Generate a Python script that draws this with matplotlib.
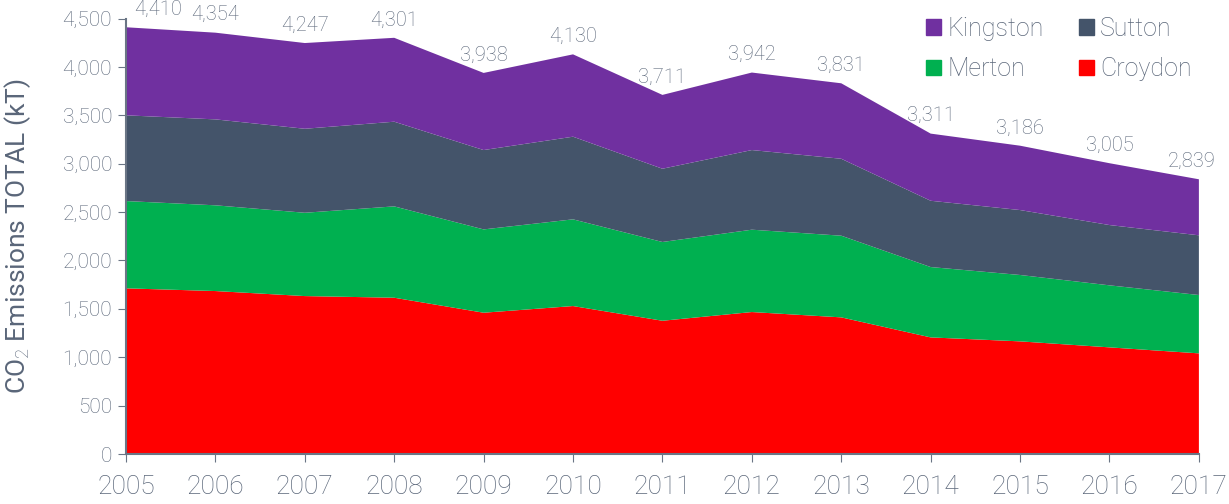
import matplotlib.pyplot as plt
from matplotlib.patches import Patch
from matplotlib.ticker import FuncFormatter

plt.rcParams['font.family'] = ['Roboto', 'DejaVu Sans']
plt.rcParams['font.weight'] = 'light'
plt.rcParams['mathtext.fontset'] = 'custom'
plt.rcParams['mathtext.rm'] = 'Roboto:light'

years = [2005, 2006, 2007, 2008, 2009, 2010, 2011, 2012, 2013, 2014, 2015, 2016, 2017]
croydon = [1712, 1684, 1632, 1615, 1460, 1529, 1377, 1467, 1412, 1205, 1164, 1102, 1040]
merton = [902, 886, 861, 944, 861, 896, 814, 851, 844, 727, 686, 641, 603]
sutton = [886, 888, 868, 875, 820, 854, 757, 823, 795, 685, 671, 623, 617]
totals = [4410, 4354, 4247, 4301, 3938, 4130, 3711, 3942, 3831, 3311, 3186, 3005, 2839]
kingston = [t - c - m - s for t, c, m, s in zip(totals, croydon, merton, sutton)]

colours = {'Croydon': '#FF0000', 'Merton': '#00B050', 'Sutton': '#44546A', 'Kingston': '#7030A0'}
text_col = '#5A6679'
axis_col = '#6A7585'

fig = plt.figure(figsize=(12.29, 5.04), dpi=100)
ax = fig.add_axes([0.1025, 0.0992, 0.873, 0.864])

ax.stackplot(years, croydon, merton, sutton, kingston,
             colors=[colours['Croydon'], colours['Merton'], colours['Sutton'], colours['Kingston']],
             linewidth=0)

# total labels above the stack
for i, (yr, t) in enumerate(zip(years, totals)):
    dx = 0
    if i == 0:
        dx = 23
    elif i == len(years) - 1:
        dx = -5
    ax.annotate(f'{t:,}', (yr, t), xytext=(dx, 6), textcoords='offset points',
                ha='center', va='bottom', fontsize=14.5, color=text_col)

ax.set_xlim(2005, 2017)
ax.set_ylim(0, 4500)
ax.set_xticks(years)
ax.set_yticks(range(0, 4501, 500))
ax.yaxis.set_major_formatter(FuncFormatter(lambda v, p: f'{int(v):,}'))
ax.tick_params(axis='x', labelsize=19, colors=axis_col, labelcolor=text_col, length=6, pad=9)
ax.tick_params(axis='y', labelsize=15, colors=axis_col, labelcolor=text_col, length=6, pad=4)
for side in ['top', 'right']:
    ax.spines[side].set_visible(False)
for side in ['left', 'bottom']:
    ax.spines[side].set_color(axis_col)
    ax.spines[side].set_linewidth(1.5)

ax.set_ylabel('CO$_2$ Emissions TOTAL (kT)', fontsize=19, color=text_col)
ax.yaxis.set_label_coords(-0.087, 0.5)

handles = [Patch(color=colours['Kingston'], label='Kingston'),
           Patch(color=colours['Merton'], label='Merton'),
           Patch(color=colours['Sutton'], label='Sutton'),
           Patch(color=colours['Croydon'], label='Croydon')]
leg = ax.legend(handles=handles, ncol=2, loc='upper right', bbox_to_anchor=(1.014, 1.055),
                frameon=False, fontsize=18, handlelength=0.6, handleheight=0.6,
                handletextpad=0.25, columnspacing=1.4, labelspacing=0.65)
for t in leg.get_texts():
    t.set_color(text_col)

fig.savefig('out.png', dpi=100)
